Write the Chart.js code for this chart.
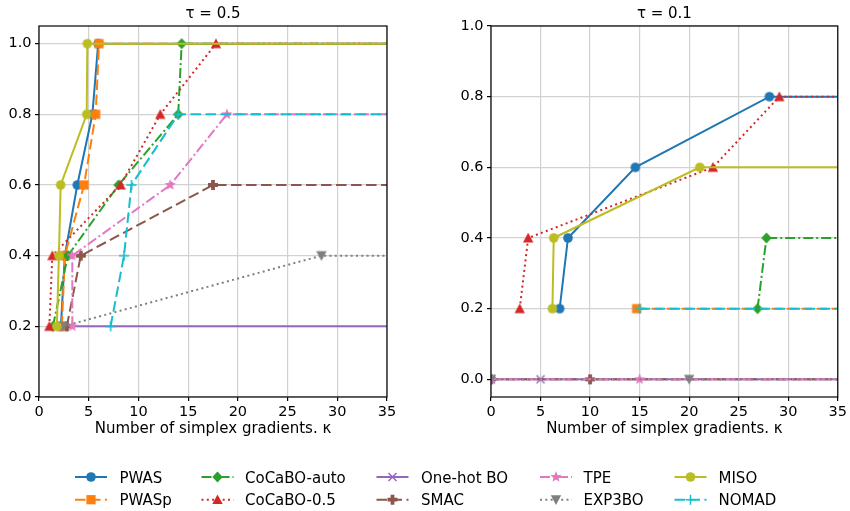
<!DOCTYPE html>
<html>
<head>
<meta charset="utf-8">
<script src="https://cdn.jsdelivr.net/npm/chart.js@4/dist/chart.umd.min.js"></script>
<style>
  html, body { margin: 0; padding: 0; background: #fff; }
  #wrap { position: relative; width: 850px; height: 511px; overflow: hidden; }
  #left { position: absolute; left: 0; top: 0; }
  #right { position: absolute; left: 440px; top: 0; }
  #legend { position: absolute; left: 0; top: 438px; }
</style>
</head>
<body>
<div id="wrap">
  <canvas id="left" width="440" height="438"></canvas>
  <canvas id="right" width="410" height="438"></canvas>
  <canvas id="legend" width="850" height="73"></canvas>
</div>
<script>
const names = ['PWAS', 'PWASp', 'CoCaBO-auto', 'CoCaBO-0.5', 'One-hot BO', 'SMAC', 'TPE', 'EXP3BO', 'MISO', 'NOMAD'];
const colors = ['#1f77b4', '#ff7f0e', '#2ca02c', '#d62728', '#9467bd', '#8c564b', '#e377c2', '#7f7f7f', '#bcbd22', '#17becf'];
const markers = ['o', 's', 'D', '^', 'x', 'P', '*', 'v', 'o', '+'];
const styles = ['solid', 'dashed', 'dashdot', 'dotted', 'solid', 'dashed', 'dashdot', 'dotted', 'solid', 'dashed'];

const xTicks = [0, 5, 10, 15, 20, 25, 30, 35];
const yTicks = [0, 0.2, 0.4, 0.6, 0.8, 1.0];

// tau = 0.5, points are [kappa, fraction of problems solved]
const pwas05 = [[2.2, 0.2], [2.6, 0.4], [3.85, 0.6], [5.37, 0.8], [5.95, 1.0], [35, 1.0]];
const pwasp05 = [[2.3, 0.2], [2.6, 0.4], [4.53, 0.6], [5.7, 0.8], [6.04, 1.0], [35, 1.0]];
const cocaboAuto05 = [[1.4, 0.2], [2.9, 0.4], [8.0, 0.6], [14.0, 0.8], [14.35, 1.0], [35, 1.0]];
const cocaboHalf05 = [[1.04, 0.2], [1.34, 0.4], [8.2, 0.6], [12.2, 0.8], [17.8, 1.0], [35, 1.0]];
const onehot05 = [[2.5, 0.2], [35, 0.2]];
const smac05 = [[2.8, 0.2], [4.2, 0.4], [17.5, 0.6], [35, 0.6]];
const tpe05 = [[3.35, 0.2], [3.35, 0.4], [13.2, 0.6], [18.9, 0.8], [35, 0.8]];
const exp3bo05 = [[2.45, 0.2], [28.4, 0.4], [35, 0.4]];
const miso05 = [[1.8, 0.2], [2.0, 0.4], [2.18, 0.6], [4.8, 0.8], [4.86, 1.0], [35, 1.0]];
const nomad05 = [[7.2, 0.2], [8.55, 0.4], [9.3, 0.6], [14.0, 0.8], [35, 0.8]];

// tau = 0.1
const pwas01 = [[6.93, 0.2], [7.77, 0.4], [14.57, 0.6], [28.1, 0.8], [35, 0.8]];
const pwasp01 = [[14.7, 0.2], [35, 0.2]];
const cocaboAuto01 = [[26.9, 0.2], [27.8, 0.4], [35, 0.4]];
const cocaboHalf01 = [[2.9, 0.2], [3.75, 0.4], [22.4, 0.6], [29.1, 0.8], [35, 0.8]];
const onehot01 = [[0, 0], [5, 0], [35, 0]];
const smac01 = [[0, 0], [10, 0], [35, 0]];
const tpe01 = [[0, 0], [15, 0], [35, 0]];
const exp3bo01 = [[0, 0], [20, 0], [35, 0]];
const miso01 = [[6.2, 0.2], [6.33, 0.4], [21.07, 0.6], [35, 0.6]];
const nomad01 = [[15.0, 0.2], [35, 0.2]];

const curves05 = [pwas05, pwasp05, cocaboAuto05, cocaboHalf05, onehot05, smac05, tpe05, exp3bo05, miso05, nomad05];
const curves01 = [pwas01, pwasp01, cocaboAuto01, cocaboHalf01, onehot01, smac01, tpe01, exp3bo01, miso01, nomad01];

const FONT = 'DejaVu Sans';
const dashFor = {
  solid: [],
  dashed: [10.5, 4.5],
  dotted: [2, 3.3],
  dashdot: [10, 3, 2, 3]
};

function drawMarker(ctx, kind, color, x, y) {
  ctx.save();
  ctx.translate(x, y);
  ctx.fillStyle = color;
  ctx.strokeStyle = color;
  ctx.setLineDash([]);
  ctx.beginPath();
  if (kind === 'o') {
    ctx.arc(0, 0, 4.8, 0, Math.PI * 2);
    ctx.fill();
  } else if (kind === 's') {
    ctx.fillRect(-4.6, -4.6, 9.2, 9.2);
  } else if (kind === 'D') {
    ctx.moveTo(0, -5.6); ctx.lineTo(5.2, 0); ctx.lineTo(0, 5.6); ctx.lineTo(-5.2, 0);
    ctx.closePath(); ctx.fill();
  } else if (kind === '^') {
    ctx.moveTo(0, -5.2); ctx.lineTo(5.2, 4.4); ctx.lineTo(-5.2, 4.4);
    ctx.closePath(); ctx.fill();
  } else if (kind === 'v') {
    ctx.moveTo(0, 5.2); ctx.lineTo(5.2, -4.4); ctx.lineTo(-5.2, -4.4);
    ctx.closePath(); ctx.fill();
  } else if (kind === 'x') {
    ctx.lineWidth = 1.5;
    ctx.moveTo(-4, -4); ctx.lineTo(4, 4);
    ctx.moveTo(-4, 4); ctx.lineTo(4, -4);
    ctx.stroke();
  } else if (kind === '+') {
    ctx.lineWidth = 1.5;
    ctx.moveTo(-5, 0); ctx.lineTo(5, 0);
    ctx.moveTo(0, -5); ctx.lineTo(0, 5);
    ctx.stroke();
  } else if (kind === 'P') {
    const a = 5, b = 1.9;
    ctx.moveTo(-b, -a); ctx.lineTo(b, -a); ctx.lineTo(b, -b); ctx.lineTo(a, -b);
    ctx.lineTo(a, b); ctx.lineTo(b, b); ctx.lineTo(b, a); ctx.lineTo(-b, a);
    ctx.lineTo(-b, b); ctx.lineTo(-a, b); ctx.lineTo(-a, -b); ctx.lineTo(-b, -b);
    ctx.closePath(); ctx.fill();
  } else if (kind === '*') {
    for (let k = 0; k < 10; k++) {
      const r = k % 2 === 0 ? 6 : 2.5;
      const ang = -Math.PI / 2 + k * Math.PI / 5;
      const px = r * Math.cos(ang), py = r * Math.sin(ang);
      if (k === 0) ctx.moveTo(px, py); else ctx.lineTo(px, py);
    }
    ctx.closePath(); ctx.fill();
  }
  ctx.restore();
}

function markerImage(kind, color) {
  const c = document.createElement('canvas');
  c.width = 18; c.height = 18;
  drawMarker(c.getContext('2d'), kind, color, 9, 9);
  return c;
}

const images = markers.map((m, i) => markerImage(m, colors[i]));

function buildDatasets(curves) {
  return curves.map((pts, i) => ({
    label: names[i],
    data: pts.map(p => ({ x: p[0], y: p[1] })),
    borderColor: colors[i],
    backgroundColor: colors[i],
    borderWidth: 2,
    borderDash: dashFor[styles[i]],
    borderCapStyle: 'butt',
    tension: 0,
    pointStyle: images[i],
    // the extension to the right edge carries no marker
    pointRadius: ctx => (ctx.dataIndex === pts.length - 1 ? 0 : 5),
    pointHoverRadius: 0,
    order: names.length - i
  }));
}

const framePlugin = {
  id: 'frame',
  afterDatasetsDraw(chart) {
    const { ctx, chartArea: a } = chart;
    ctx.save();
    ctx.strokeStyle = '#000';
    ctx.lineWidth = 1.2;
    ctx.setLineDash([]);
    ctx.strokeRect(a.left, a.top, a.right - a.left, a.bottom - a.top);
    ctx.restore();
  },
  afterDraw(chart, args, opts) {
    const { ctx, chartArea: a } = chart;
    ctx.save();
    ctx.fillStyle = '#000';
    ctx.font = '15px "' + FONT + '"';
    ctx.textAlign = 'center';
    ctx.textBaseline = 'middle';
    ctx.fillText(opts.title, (a.left + a.right) / 2, 14.5);
    ctx.restore();
  }
};

function makePanel(canvasId, title, curves, yMin, yMax, yWidth, padRight) {
  const tickFont = { family: FONT, size: 14.5 };
  const grid = { color: '#d2d2d2', lineWidth: 1.2, tickColor: '#000', tickLength: 4, tickWidth: 1.2 };
  return new Chart(document.getElementById(canvasId), {
    type: 'line',
    data: { datasets: buildDatasets(curves) },
    plugins: [framePlugin],
    options: {
      responsive: false,
      animation: false,
      events: [],
      layout: { padding: { top: 26, right: padRight, bottom: 0, left: 0 } },
      plugins: {
        legend: { display: false },
        tooltip: { enabled: false },
        frame: { title: title }
      },
      scales: {
        x: {
          type: 'linear',
          min: 0,
          max: 35,
          afterBuildTicks: s => { s.ticks = xTicks.map(v => ({ value: v })); },
          afterFit: s => { s.height = 41; },
          ticks: { font: tickFont, color: '#000', padding: 3, maxRotation: 0, autoSkip: false, callback: v => String(v) },
          grid: grid,
          border: { display: false },
          title: { display: true, text: 'Number of simplex gradients. κ', color: '#000', font: { family: FONT, size: 15 }, padding: 0 }
        },
        y: {
          type: 'linear',
          min: yMin,
          max: yMax,
          afterBuildTicks: s => { s.ticks = yTicks.map(v => ({ value: v })); },
          afterFit: s => { s.width = yWidth; },
          ticks: { font: tickFont, color: '#000', padding: 3.5, autoSkip: false, callback: v => v.toFixed(1) },
          grid: grid,
          border: { display: false }
        }
      }
    }
  });
}

makePanel('left', 'τ = 0.5', curves05, 0, 1.05, 39, 53);
makePanel('right', 'τ = 0.1', curves01, -0.05, 1.0, 51, 12);

// legend laid out in five columns, filled column by column
function drawLegend() {
  const ctx = document.getElementById('legend').getContext('2d');
  const top = 438;
  const sampleX = [75, 201.5, 376.5, 540, 674.5];
  const textX = [119.5, 245, 421, 583.5, 718.5];
  const rowY = [477, 499.7];
  const baseY = [482.7, 505.3];
  ctx.font = '15px "' + FONT + '"';
  ctx.textBaseline = 'alphabetic';
  names.forEach((name, i) => {
    const col = Math.floor(i / 2), row = i % 2;
    const x0 = sampleX[col], y = rowY[row] - top;
    ctx.save();
    ctx.strokeStyle = colors[i];
    ctx.lineWidth = 2;
    ctx.lineCap = 'butt';
    ctx.setLineDash(dashFor[styles[i]]);
    ctx.beginPath();
    ctx.moveTo(x0, y);
    ctx.lineTo(x0 + 32, y);
    ctx.stroke();
    ctx.restore();
    drawMarker(ctx, markers[i], colors[i], x0 + 16, y);
    ctx.fillStyle = '#000';
    ctx.fillText(name, textX[col], baseY[row] - top);
  });
}
drawLegend();
</script>
</body>
</html>
